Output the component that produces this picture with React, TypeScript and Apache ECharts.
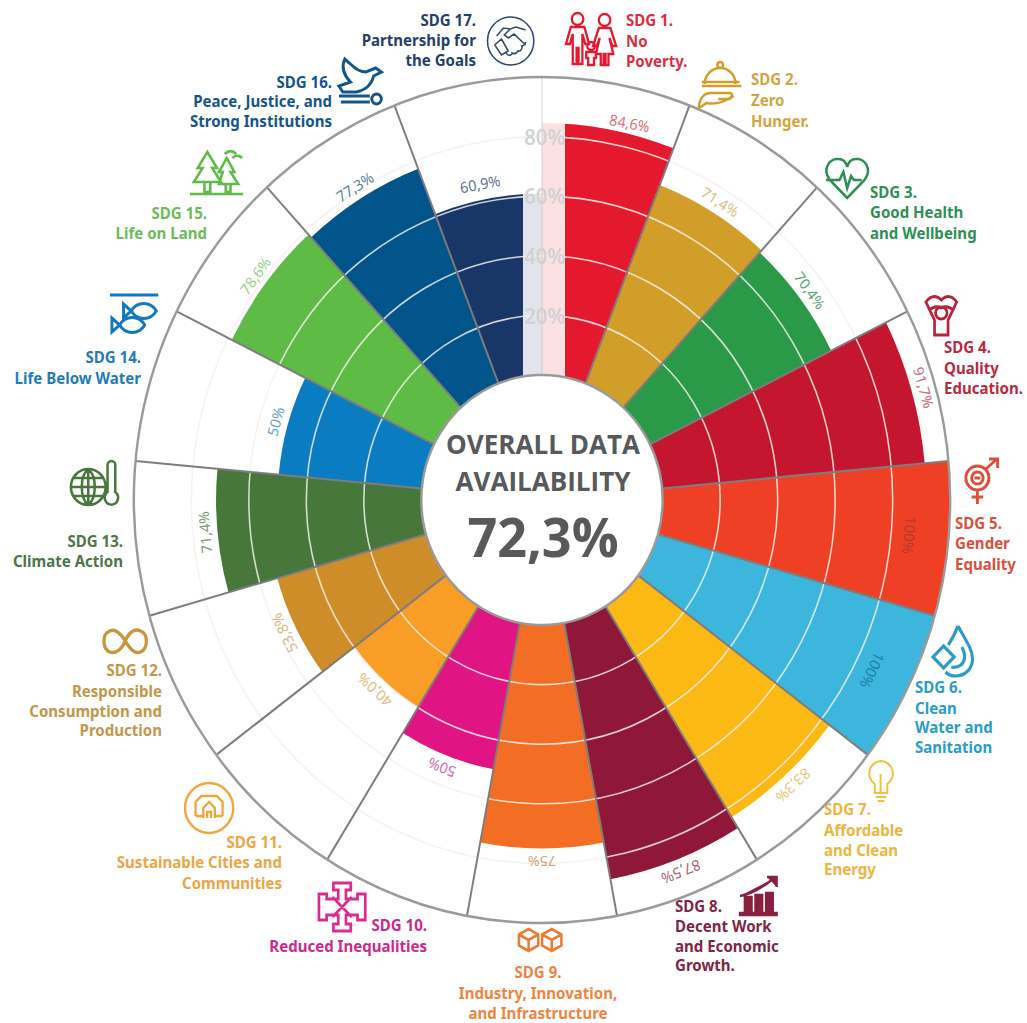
import React, { useEffect, useRef } from "react";
import * as echarts from "echarts";

const categories = ["SDG 1", "SDG 2", "SDG 3", "SDG 4", "SDG 5", "SDG 6", "SDG 7", "SDG 8", "SDG 9", "SDG 10", "SDG 11", "SDG 12", "SDG 13", "SDG 14", "SDG 15", "SDG 16", "SDG 17"];
const values = [84.6, 71.4, 70.4, 91.7, 100, 100, 83.3, 87.5, 75, 50, 40, 53.8, 71.4, 50, 78.6, 77.3, 60.9];
const valueLabels = ["84,6%", "71,4%", "70,4%", "91,7%", "100%", "100%", "83,3%", "87,5%", "75%", "50%", "40,0%", "53,8%", "71,4%", "50%", "78,6%", "77,3%", "60,9%"];
const barColors = ["#e5192d", "#d19e2a", "#2a9a48", "#c4172f", "#ef4026", "#3cb6dd", "#fcb813", "#8f1838", "#f36d25", "#e11484", "#f99d26", "#cf8d2a", "#48773c", "#0a7dc2", "#5dbb46", "#02558b", "#183668"];
const labelColors = ["#d8455a", "#d3ae5a", "#2a8a50", "#c4455a", "#9c3a28", "#14709a", "#e0b850", "#8f3850", "#d08a50", "#c040a0", "#d8ab60", "#cda660", "#5d8052", "#3a86bd", "#7cc468", "#2a5d86", "#2f4a70"];

// The whole drawing is slightly narrower than it is tall.
const SX = 0.965;
const CX = 542;
const CY = 500;
const X = (v: number) => v / SX;

type Block = { lines: string[]; x: number; ys: number[]; align: string; color: string };
const captions: Block[] = [
  { lines: ["SDG 1.", "No", "Poverty."], x: 626, ys: [20, 41, 61], align: "left", color: "#d9303f" },
  { lines: ["SDG 2.", "Zero", "Hunger."], x: 751, ys: [79, 100, 121], align: "left", color: "#d3a53f" },
  { lines: ["SDG 3.", "Good Health", "and Wellbeing"], x: 870, ys: [192, 212, 233], align: "left", color: "#2f8f55" },
  { lines: ["SDG 4.", "Quality", "Education."], x: 944, ys: [347, 368, 388], align: "left", color: "#b92a42" },
  { lines: ["SDG 5.", "Gender", "Equality"], x: 955, ys: [523, 543, 564], align: "left", color: "#d9503c" },
  { lines: ["SDG 6.", "Clean", "Water and", "Sanitation"], x: 915, ys: [687, 708, 727, 747], align: "left", color: "#2a9cc8" },
  { lines: ["SDG 7.", "Affordable", "and Clean", "Energy"], x: 824, ys: [809, 830, 850, 869], align: "left", color: "#ecb63c" },
  { lines: ["SDG 8.", "Decent Work", "and Economic", "Growth."], x: 675, ys: [906, 926, 946, 965], align: "left", color: "#7f2544" },
  { lines: ["SDG 9.", "Industry, Innovation,", "and Infrastructure"], x: 538, ys: [972, 993, 1013], align: "center", color: "#ee8440" },
  { lines: ["SDG 10.", "Reduced Inequalities"], x: 427, ys: [925, 946], align: "right", color: "#c92a8e" },
  { lines: ["SDG 11.", "Sustainable Cities and", "Communities"], x: 282, ys: [842, 862, 883], align: "right", color: "#eba645" },
  { lines: ["SDG 12.", "Responsible", "Consumption and", "Production"], x: 162, ys: [670, 691, 711, 730], align: "right", color: "#c2974a" },
  { lines: ["SDG 13.", "Climate Action"], x: 123, ys: [541, 561], align: "right", color: "#4d7548" },
  { lines: ["SDG 14.", "Life Below Water"], x: 141, ys: [357, 378], align: "right", color: "#1f7cb5" },
  { lines: ["SDG 15.", "Life on Land"], x: 207, ys: [213, 233], align: "right", color: "#6cbb5a" },
  { lines: ["SDG 16.", "Peace, Justice, and", "Strong Institutions"], x: 332, ys: [82, 101, 121], align: "right", color: "#14558a" },
  { lines: ["SDG 17.", "Partnership for", "the Goals"], x: 476, ys: [20, 40, 60], align: "right", color: "#24406a" },
];

type Glyph = { x: number; y: number; w: number; color: string; d: string; solid?: boolean };
const glyphs: Glyph[] = [
  { x: 566, y: 12, w: 2.4, color: "#e5192d", d: "M18 7a6 6 0 1 1-12 0a6 6 0 1 1 12 0M5 15H19L24 32H20L17 22V52H13V36H11V52H7V22L4 32H0ZM46 8a6 6 0 1 1-12 0a6 6 0 1 1 12 0M34 16H46L52 34H48L45 26L49 42H44V53H41V42H39V53H36V42H31L35 26L32 34H28ZM30 34a4 4 0 1 1-8 0a4 4 0 1 1 8 0M21 40H31V46H29V53H23V46H21Z" },
  { x: 697, y: 55, w: 2.6, color: "#d19e2a", d: "M8 29A16 16 0 0 1 40 29M27 10a3 3 0 1 1-6 0a3 3 0 1 1 6 0M5 27H44M5 31H46M2 53C2 43 8 38 14 38H34C38 38 36 44 32 44H22M2 53L10 48C20 50 30 46 38 41" },
  { x: 825, y: 158, w: 2.6, color: "#2a8f50", d: "M23 40L5 22C-4 10 6 0 14 1C19 1 22 5 23 9C24 5 27 1 32 1C40 0 50 10 41 22ZM1 22H15L19 14L23 30L27 18L30 22H38" },
  { x: 922, y: 292, w: 2.8, color: "#b8233c", d: "M4 10C10 2 16 4 20 8C24 4 30 2 36 10L32 18C28 14 24 14 20 16C16 14 12 14 8 18ZM26 21a6 6 0 1 1-12 0a6 6 0 1 1 12 0M6 14L13 28V43H27V28L34 14" },
  { x: 961, y: 458, w: 3, color: "#d9503c", d: "M29 20a12 12 0 1 1-24 0a12 12 0 1 1 24 0M23 20a6 6 0 1 1-12 0a6 6 0 1 1 12 0M26 11L37 1M29 1H38V10M17 32V46M11 39H23M14 20H20" },
  { x: 932, y: 625, w: 3.2, color: "#2a9cc8", d: "M27 1C34 14 42 24 42 34C42 44 34 51 24 51C20 51 17 50 14 47M27 1C24 8 21 14 17 20M31 22C34 28 36 35 30 40C27 42 24 43 20 42M12 21L23 32L12 43L1 32Z" },
  { x: 868, y: 760, w: 2, color: "#f0bf3c", d: "M13.5 1A12.5 12.5 0 0 1 20 24V33H7V24A12.5 12.5 0 0 1 13.5 1ZM8 37H19M10 41H17M13 14V32" },
  { x: 740, y: 875, w: 2.4, color: "#8a1f40", solid: true, d: "M0 38H38V40H0ZM5 38V22H12V38ZM16 38V20H23V38ZM27 38V18H34V38ZM0 21C12 19 24 12 34 4M28 2H38V12" },
  { x: 517, y: 928, w: 2.6, color: "#ee7a30", d: "M12 1L22 6.5V17.5L12 23L2 17.5V6.5ZM2 6.5L12 12L22 6.5M12 12V23M36 1L46 6.5V17.5L36 23L26 17.5V6.5ZM26 6.5L36 12L46 6.5M36 12V23" },
  { x: 317, y: 882, w: 2.8, color: "#dc2a94", d: "M17 1H35V8H30V17H42V12H50V38H42V33H30V42H35V49H17V42H22V33H10V38H2V12H10V17H22V8H17ZM16 15L36 35M36 15L16 35" },
  { x: 184, y: 780, w: 2.4, color: "#f0a63c", d: "M51 28a25 25 0 1 1-50 0a25 25 0 1 1 50 0M12 36V22L18 16H34L40 22V36M20 38V28L26 22L32 28V38M24 38V32H28V38M12 36H20M32 36H40" },
  { x: 102, y: 628, w: 3.4, color: "#c8963f", d: "M24 13C18 3 12 1 8 3C0 6 0 20 8 24C14 26 20 22 24 13C28 4 34 0 40 3C48 6 48 20 40 24C34 26 30 22 24 13Z" },
  { x: 68, y: 460, w: 2.6, color: "#48773c", d: "M39 27a18 18 0 1 1-36 0a18 18 0 1 1 36 0M21 9C12 16 12 38 21 45M21 9C30 16 30 38 21 45M21 9V45M3 27H39M6 18H36M6 36H36M41 32V5A4 4 0 0 1 49 5V32A7 7 0 1 1 41 32Z" },
  { x: 110, y: 293, w: 3, color: "#1079be", d: "M0 2H50M22 18C28 8 42 8 48 18C42 28 28 28 22 18ZM22 18L14 11V25ZM10 32C16 22 30 22 36 32C30 42 16 42 10 32ZM10 32L2 25V39Z" },
  { x: 190, y: 150, w: 2.6, color: "#5dbb46", d: "M0 44H55M18 2L28 18H23L32 32H4L13 18H8ZM15 32V42H21V32M38 8L46 22H42L50 34H30L34 22H30ZM37 34V42H42V34M36 4C40 0 44 0 48 4M44 8C48 4 52 6 54 8" },
  { x: 337, y: 58, w: 3, color: "#14558a", d: "M8 1L14 6C18 10 24 14 30 14L40 10L46 14L38 18C36 26 30 32 20 34H6L2 28L14 24C8 18 4 10 8 1ZM2 38H34M4 44H34M46 41a5 5 0 1 1-10 0a5 5 0 1 1 10 0" },
  { x: 487, y: 15, w: 1.6, color: "#2d4a6a", d: "M48.5 26a24 24 0 1 1-48 0a24 24 0 1 1 48 0M8 30L15 24L22 36L15 40ZM40 15L30 12L24 14L17 13L10 21M24 14L18 20L22 23L28 19L40 30M20 38C22 42 26 40 26 38C30 40 32 36 32 36C35 37 37 33 36 31C38 31 40 29 40 27" },
];

glyphs.forEach((g, i) => {
  echarts.graphic.registerShape("sdgGlyph" + i, echarts.graphic.extendPath(g.d, {}));
});

const captionFont = '700 15.6px "Noto Sans", sans-serif';
const centreColor = "#58595b";

function buildOption() {
  const sliceAngle = 360 / categories.length;
  const dividerColors = Array.from({ length: categories.length + 1 }, (_, i) =>
    i === 0 || i === categories.length ? "rgba(190,190,190,0.35)" : "#7d7d7d"
  );

  const captionTexts = captions.flatMap((c) =>
    c.lines.map((line, i) => ({
      type: "text",
      x: X(c.x),
      y: c.ys[i],
      style: { text: line, fill: c.color, font: captionFont, textAlign: c.align, textVerticalAlign: "middle", verticalAlign: "middle" },
    }))
  );
  const glyphShapes = glyphs.map((g, i) => ({
    type: "sdgGlyph" + i,
    x: X(g.x),
    y: g.y,
    style: { fill: g.solid ? g.color : "none", stroke: g.color, lineWidth: g.w },
  }));
  const centreTexts = [
    { text: "OVERALL DATA", y: 444, size: 27 },
    { text: "AVAILABILITY", y: 481, size: 27 },
    { text: "72,3%", y: 536, size: 54 },
  ].map((t) => ({
    type: "text",
    x: X(CX + 1),
    y: t.y,
    style: { text: t.text, fill: centreColor, font: `700 ${t.size}px "Open Sans", sans-serif`, textAlign: "center", textVerticalAlign: "middle", verticalAlign: "middle" },
  }));

  return {
    animation: false,
    backgroundColor: "#ffffff",
    polar: { center: [X(CX), CY], radius: [125, 423] },
    angleAxis: {
      type: "category",
      data: categories,
      startAngle: 90,
      clockwise: true,
      z: 4,
      axisLine: { show: true, lineStyle: { color: "#9a9a9a", width: 2.5 } },
      axisTick: { show: false },
      axisLabel: { show: false },
      splitLine: { show: true, lineStyle: { color: dividerColors, width: 2 } },
    },
    radiusAxis: {
      type: "value",
      min: 0,
      max: 100,
      interval: 20,
      z: 4,
      axisLine: { show: false },
      axisTick: { show: false },
      axisLabel: {
        color: "#d2d2d2",
        fontSize: 21,
        fontWeight: 600,
        fontFamily: '"Noto Sans", sans-serif',
        margin: -24,
        formatter: (v: number) => (v === 0 || v === 100 ? "" : `${v}%`),
      },
      splitLine: {
        show: true,
        lineStyle: {
          width: 1.6,
          color: ["rgba(0,0,0,0)", "rgba(246,240,236,0.85)", "rgba(246,240,236,0.85)", "rgba(246,240,236,0.85)", "rgba(246,240,236,0.85)", "rgba(0,0,0,0)"],
        },
      },
    },
    series: [
      {
        type: "bar",
        coordinateSystem: "polar",
        barWidth: "100%",
        barGap: "-100%",
        silent: true,
        z: 1,
        data: values.map((v, i) => ({ value: v, itemStyle: { color: barColors[i] } })),
      },
      {
        // Value captions sit just past each bar's end, turning with the wheel.
        type: "scatter",
        coordinateSystem: "polar",
        symbolSize: 1,
        silent: true,
        z: 5,
        itemStyle: { color: "rgba(0,0,0,0)" },
        data: values.map((v, i) => ({
          value: [v >= 100 ? v - 13.5 : v + 4.5, categories[i]],
          label: {
            show: true,
            position: "inside",
            formatter: valueLabels[i],
            color: labelColors[i],
            fontSize: 15,
            fontFamily: '"Noto Sans", sans-serif',
            rotate: -(i + 0.5) * sliceAngle,
            // The strip behind the scale hides part of the first and last slices.
            offset: i === 0 ? [20, 3] : i === categories.length - 1 ? [-5, -3] : [0, 0],
          },
        })),
      },
    ],
    graphic: {
      z: 3,
      elements: [
        // Pale strip behind the radial scale.
        { type: "rect", z: 3, shape: { x: X(523), y: 78, width: 42 / SX, height: 300 }, style: { fill: "rgba(255,255,255,0.87)" } },
        ...captionTexts,
        ...glyphShapes,
        ...centreTexts,
      ],
    },
  };
}

export default function App() {
  const ref = useRef<HTMLDivElement>(null);
  useEffect(() => {
    if (!ref.current) return;
    const chart = echarts.init(ref.current, undefined, { renderer: "svg" });
    chart.setOption(buildOption() as any);
    return () => chart.dispose();
  }, []);
  return (
    <div style={{ position: "absolute", left: 0, top: 0, width: 1027, height: 1023, overflow: "hidden", background: "#fff" }}>
      <div
        ref={ref}
        style={{ width: 1027 / SX, height: 1023, transform: `scaleX(${SX})`, transformOrigin: "0 0" }}
      />
    </div>
  );
}
